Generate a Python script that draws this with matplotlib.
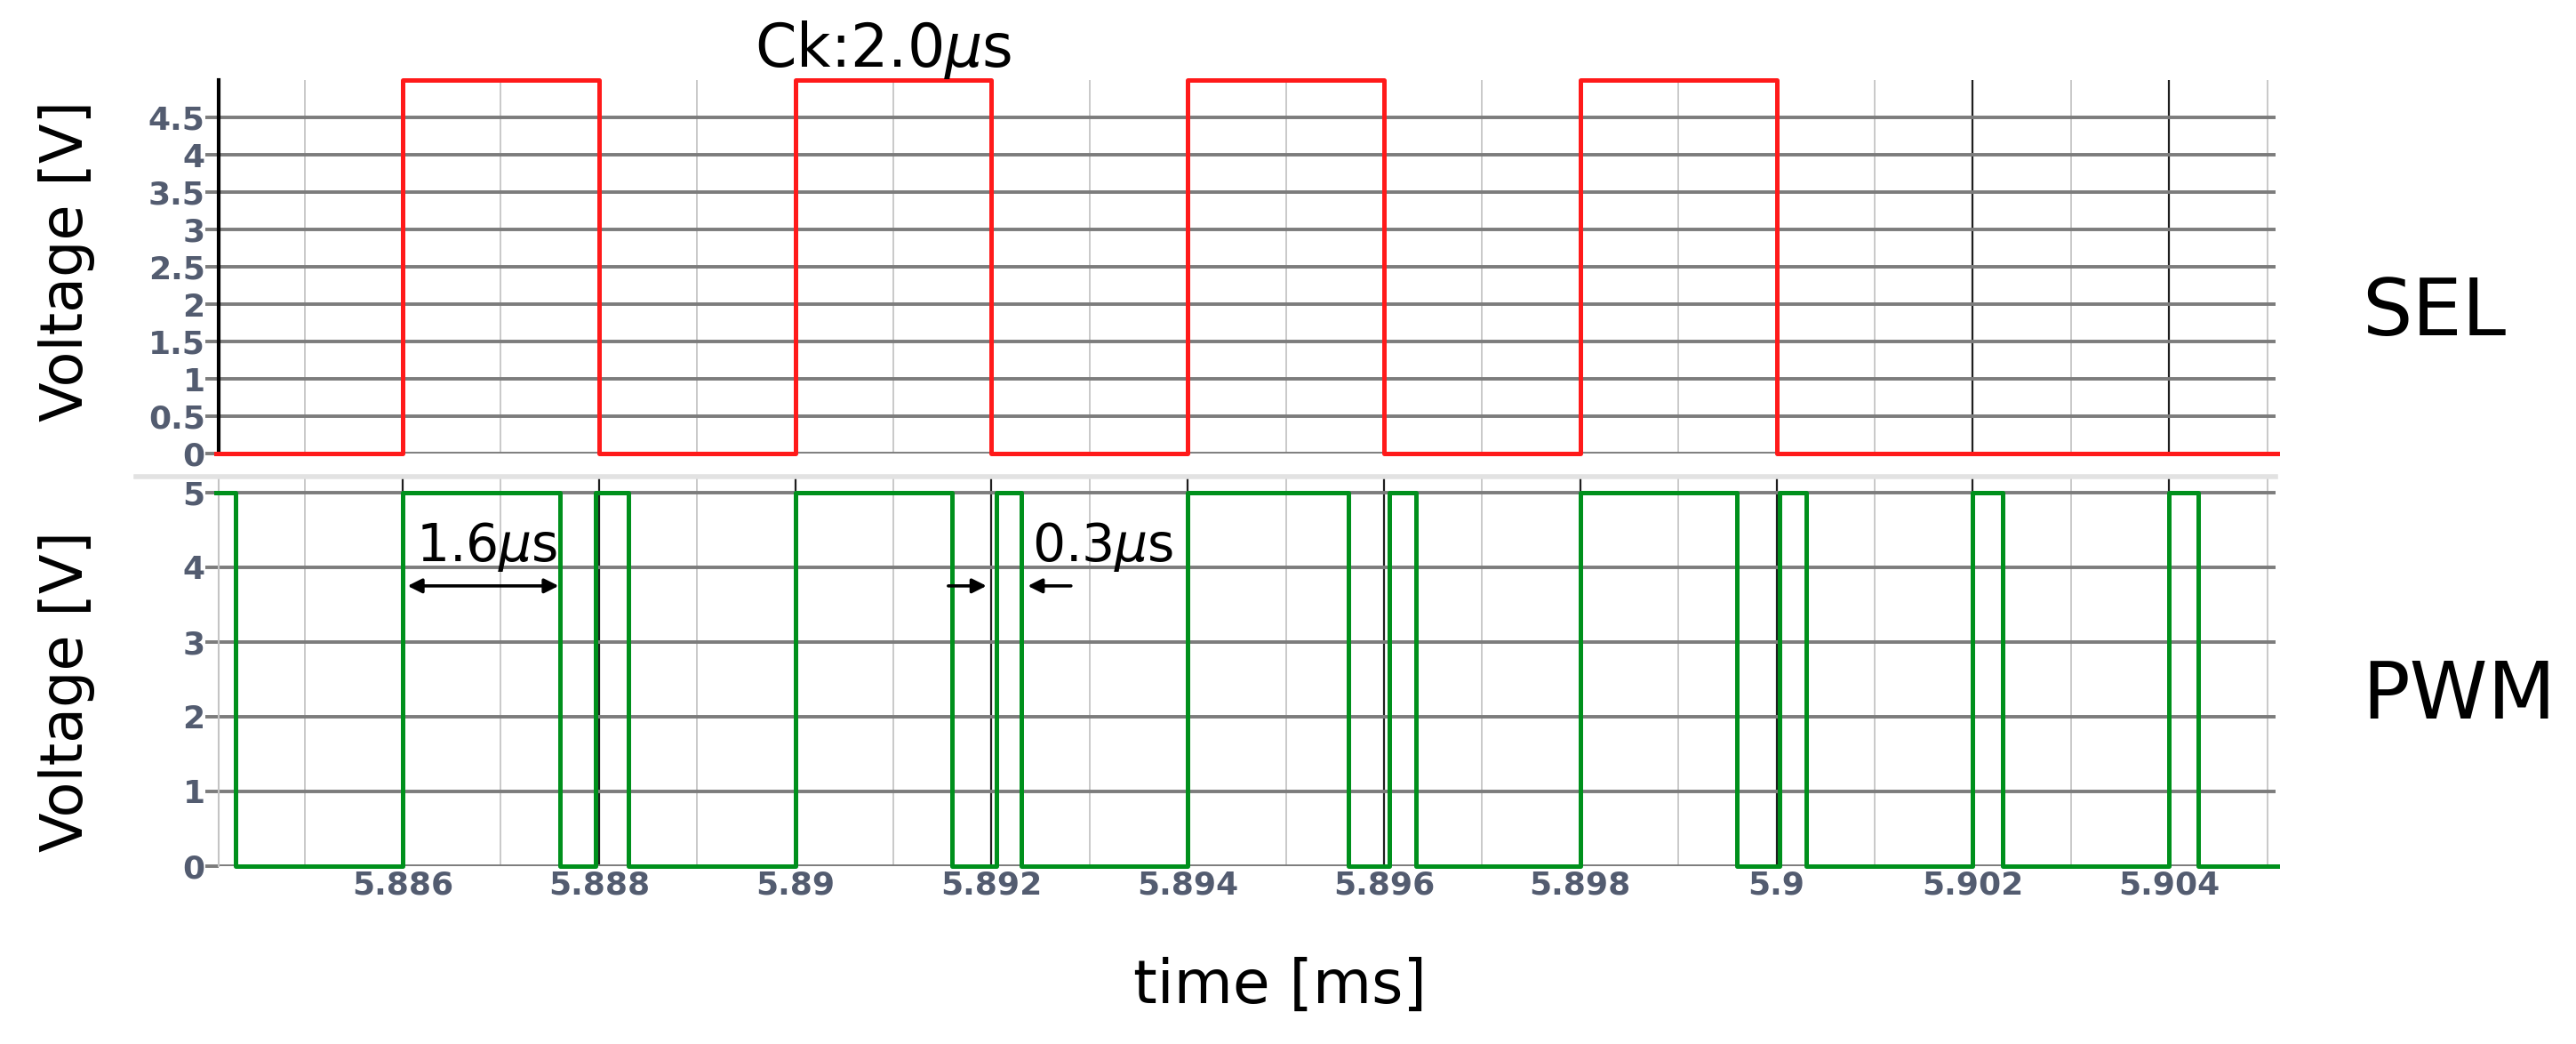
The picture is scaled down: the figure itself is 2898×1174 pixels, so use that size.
"""
SEL / PWM timing preview: two stacked step traces sharing one time axis.
"""

import matplotlib

matplotlib.use("Agg")
import matplotlib.pyplot as plt
from matplotlib.lines import Line2D
from matplotlib.ticker import FixedLocator, FuncFormatter

# time [ms] of each level change, levels in V (steps-post)
SEL_TIMES = [5.8841, 5.886, 5.888, 5.890, 5.892, 5.894, 5.896, 5.898, 5.900, 5.9051]
SEL_LEVELS = [0, 5, 0, 5, 0, 5, 0, 5, 0, 0]

PWM_TIMES = [
    5.8841, 5.8843, 5.886, 5.8876, 5.88797, 5.8883, 5.890, 5.8916,
    5.89205, 5.8923, 5.894, 5.89564, 5.89605, 5.89633, 5.898, 5.8996,
    5.90003, 5.9003, 5.902, 5.9023, 5.904, 5.9043, 5.9051,
]
PWM_LEVELS = [5, 0, 5, 0, 5, 0, 5, 0, 5, 0, 5, 0, 5, 0, 5, 0, 5, 0, 5, 0, 5, 0, 0]

TIME_TICKS = [5.886, 5.888, 5.890, 5.892, 5.894, 5.896, 5.898, 5.900, 5.902, 5.904]
TIME_MINOR = [5.885, 5.887, 5.889, 5.891, 5.893, 5.895, 5.897, 5.899, 5.901, 5.903, 5.905]
SEL_YTICKS = [0, 0.5, 1, 1.5, 2, 2.5, 3, 3.5, 4, 4.5]
PWM_YTICKS = [0, 1, 2, 3, 4, 5]

# annotation marks (time [ms], V)
WIDE_SPAN = (5.88605, 5.88759)
NARROW_LEFT = (5.89156, 5.89195)
NARROW_RIGHT = (5.89281, 5.89237)
ARROW_Y = 3.75

XLIM = (5.884125, 5.905085)

RED = "#ff1a1a"
GREEN = "#00901c"
HGRID = "#7c7c7c"
VGRID_MINOR = "#c9c9c9"
VGRID_MAJOR = "#1e1e1e"
TICK_COLOR = "#535c70"

W, H = 2898, 1174


def _fmt(v, _pos):
    return f"{v:g}"


def style_axes(ax, yticks, ylim):
    ax.set_xlim(*XLIM)
    ax.set_ylim(*ylim)
    ax.xaxis.set_major_locator(FixedLocator(TIME_TICKS))
    ax.xaxis.set_minor_locator(FixedLocator(TIME_MINOR))
    ax.yaxis.set_major_locator(FixedLocator(yticks))
    ax.yaxis.set_major_formatter(FuncFormatter(_fmt))
    ax.grid(which="major", axis="y", color=HGRID, linewidth=2.8, zorder=1)
    ax.grid(which="major", axis="x", color=VGRID_MAJOR, linewidth=1.6, zorder=1)
    ax.grid(which="minor", axis="x", color=VGRID_MINOR, linewidth=1.4, zorder=1)
    ax.set_axisbelow(True)
    for side in ("top", "right", "bottom"):
        ax.spines[side].set_visible(False)
    ax.tick_params(axis="y", length=11, width=2.8, color=HGRID, pad=0,
                   labelsize=26, labelcolor=TICK_COLOR)
    ax.tick_params(axis="x", which="both", length=0)
    for lab in ax.get_yticklabels():
        lab.set_fontweight("bold")


fig = plt.figure(figsize=(W / 100, H / 100), dpi=100)
ax_sel = fig.add_axes([246 / W, 1 - 510 / H, 2314 / W, 420 / H])
ax_pwm = fig.add_axes([246 / W, 1 - 974 / H, 2314 / W, 437 / H])

style_axes(ax_sel, SEL_YTICKS, (0, 5))
style_axes(ax_pwm, PWM_YTICKS, (0, 5.2))

ax_sel.spines["left"].set_color("black")
ax_sel.spines["left"].set_linewidth(3)
ax_sel.tick_params(axis="x", labelbottom=False)
ax_pwm.spines["left"].set_color("#c4c4c4")
ax_pwm.spines["left"].set_linewidth(1.5)
ax_pwm.xaxis.set_major_formatter(FuncFormatter(_fmt))
ax_pwm.tick_params(axis="x", labelsize=26, labelcolor=TICK_COLOR, pad=3)
for lab in ax_pwm.get_xticklabels():
    lab.set_fontweight("bold")

ax_sel.plot(SEL_TIMES, SEL_LEVELS, drawstyle="steps-post", color=RED,
            linewidth=3.6, clip_on=False, zorder=3)
ax_pwm.plot(PWM_TIMES, PWM_LEVELS, drawstyle="steps-post", color=GREEN,
            linewidth=3.6, clip_on=False, zorder=3)

# separator band between panels
fig.add_artist(Line2D([153 / W, 2560 / W], [1 - 536 / H] * 2, transform=fig.transFigure,
                      color="#e2e2e2", linewidth=4))

ax_sel.text(5.8909, 5.18, r"Ck:2.0$\mu$s", ha="center", va="baseline",
            fontsize=48, clip_on=False)

arrow = dict(color="black", lw=2.6, shrinkA=0, shrinkB=0, mutation_scale=24)
ax_pwm.annotate("", xy=(WIDE_SPAN[1], ARROW_Y), xytext=(WIDE_SPAN[0], ARROW_Y),
                arrowprops=dict(arrowstyle="<|-|>", **arrow), zorder=4)
ax_pwm.annotate("", xy=(NARROW_LEFT[1], ARROW_Y), xytext=(NARROW_LEFT[0], ARROW_Y),
                arrowprops=dict(arrowstyle="-|>", **arrow), zorder=4)
ax_pwm.annotate("", xy=(NARROW_RIGHT[1], ARROW_Y), xytext=(NARROW_RIGHT[0], ARROW_Y),
                arrowprops=dict(arrowstyle="-|>", **arrow), zorder=4)
ax_pwm.text(5.88614, 4.08, r"1.6$\mu$s", ha="left", va="baseline", fontsize=42, zorder=4)
ax_pwm.text(5.89241, 4.08, r"0.3$\mu$s", ha="left", va="baseline", fontsize=42, zorder=4)

fig.text(75 / W, 1 - 293 / H, "Voltage [V]", rotation=90, ha="center", va="center", fontsize=47)
fig.text(75 / W, 1 - 778 / H, "Voltage [V]", rotation=90, ha="center", va="center", fontsize=47)
fig.text(2657 / W, 1 - 377 / H, "SEL", ha="left", va="baseline", fontsize=64)
fig.text(2657 / W, 1 - 808 / H, "PWM", ha="left", va="baseline", fontsize=64)
fig.text(1440 / W, 1 - 1128 / H, "time [ms]", ha="center", va="baseline", fontsize=49)

fig.savefig("out.png", dpi=100, facecolor="white")
